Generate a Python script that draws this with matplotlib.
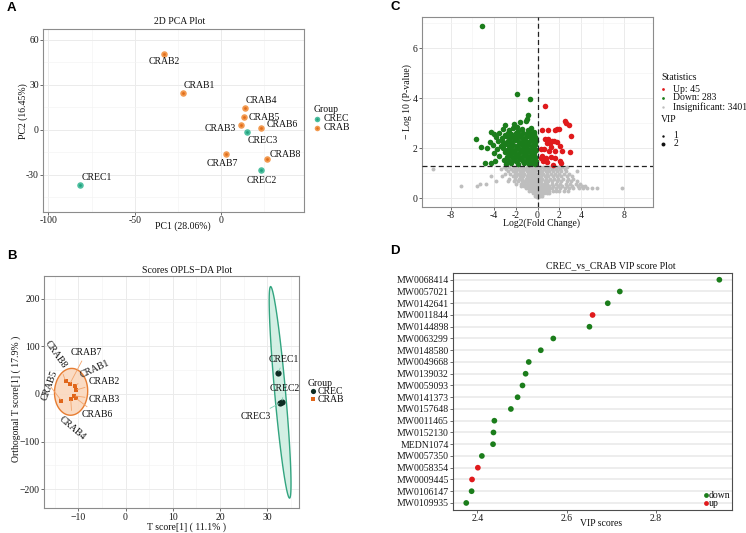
import numpy as np
import matplotlib
matplotlib.use('Agg')
import matplotlib.pyplot as plt

plt.rcParams['font.family'] = ['Liberation Serif', 'DejaVu Serif']

W, H = 746, 533

# ---------- A: 2D PCA
pca_names = ['CREC1', 'CREC2', 'CREC3', 'CRAB1', 'CRAB2', 'CRAB3', 'CRAB4', 'CRAB5', 'CRAB6', 'CRAB7', 'CRAB8']
pca_group = ['CREC'] * 3 + ['CRAB'] * 8
pca_pc1 = [-81.9, 23.3, 15.0, -22.1, -32.8, 11.7, 14.0, 13.1, 23.3, 3.1, 26.4]
pca_pc2 = [-37.3, -27.1, -1.8, 24.5, 50.2, 2.9, 14.2, 8.2, 0.9, -16.0, -19.8]

# ---------- B: OPLS-DA scores
opls_names = pca_names
opls_group = pca_group
opls_t = [32.35, 33.1, 32.75, -10.6, -10.5, -10.9, -11.6, -13.6, -10.5, -11.8, -12.7]
opls_o = [44.8, -16.1, -18.9, 17.0, 8.0, -4.0, -11.0, -14.0, -9.0, 21.0, 27.0]

# ---------- C: volcano (approximate readings of the point cloud)
up_pts = [(0.68, 3.67), (2.52, 3.07), (2.61, 3.0), (2.89, 2.91), (3.07, 2.47), (2.95, 1.83),
          (0.37, 2.73), (0.98, 2.73), (1.57, 2.71), (1.81, 2.76), (1.97, 2.76), (0.68, 2.36),
          (0.95, 2.36), (1.38, 2.27), (1.5, 2.29), (1.14, 2.2), (0.83, 2.2), (0.28, 1.96),
          (0.58, 1.96), (1.04, 1.87), (1.57, 1.87), (2.21, 1.89), (2.06, 2.1), (1.75, 2.23),
          (0.43, 1.69), (0.74, 1.6), (1.2, 1.64), (1.6, 1.59), (0.52, 1.47), (0.89, 1.43),
          (2.03, 1.47), (2.18, 1.4), (1.44, 1.33), (0.34, 1.6), (1.25, 2.05)]
down_pts = [(-5.1, 6.89), (-1.87, 4.15), (-0.68, 3.97), (-0.86, 3.33), (-5.69, 2.37), (-4.24, 2.64),
            (-5.16, 2.04), (-4.64, 2.0), (-4.79, 1.4), (-2.95, 2.91), (-2.12, 2.97), (-1.6, 3.05),
            (-1.1, 3.07), (-0.95, 3.15), (-1.9, 2.85), (-0.28, 2.64), (-0.45, 2.5),
            (-3.2, 2.78), (-2.6, 2.72), (-2.3, 2.8), (-1.8, 2.7), (-1.4, 2.77), (-0.9, 2.73), (-0.6, 2.8),
            (-4.0, 2.55), (-3.5, 2.6), (-3.0, 2.53), (-2.7, 2.62), (-2.4, 2.56), (-2.0, 2.6), (-1.7, 2.54),
            (-1.3, 2.61), (-1.0, 2.56), (-0.7, 2.6), (-0.3, 2.55),
            (-3.8, 2.45), (-3.3, 2.4), (-2.9, 2.47), (-2.55, 2.41), (-2.2, 2.46), (-1.85, 2.4), (-1.5, 2.45),
            (-1.15, 2.42), (-0.85, 2.47), (-0.55, 2.4), (-0.2, 2.44),
            (-4.4, 2.25), (-3.6, 2.3), (-3.15, 2.24), (-2.75, 2.29), (-2.4, 2.25), (-2.05, 2.31), (-1.7, 2.26),
            (-1.35, 2.3), (-1.0, 2.24), (-0.7, 2.29), (-0.35, 2.26), (-0.1, 2.3),
            (-4.1, 2.14), (-3.4, 2.1), (-2.95, 2.15), (-2.6, 2.09), (-2.25, 2.13), (-1.9, 2.1), (-1.55, 2.15),
            (-1.2, 2.11), (-0.9, 2.14), (-0.55, 2.09), (-0.25, 2.13),
            (-3.7, 1.95), (-3.2, 1.99), (-2.8, 1.94), (-2.45, 1.98), (-2.1, 1.93), (-1.75, 1.99), (-1.4, 1.95),
            (-1.05, 1.98), (-0.75, 1.93), (-0.4, 1.97), (-0.15, 1.94),
            (-4.0, 1.8), (-3.0, 1.84), (-2.6, 1.79), (-2.3, 1.83), (-1.95, 1.78), (-1.6, 1.83), (-1.25, 1.8),
            (-0.95, 1.84), (-0.6, 1.79), (-0.3, 1.82),
            (-3.5, 1.68), (-2.8, 1.64), (-2.4, 1.69), (-2.1, 1.63), (-1.8, 1.67), (-1.45, 1.64), (-1.1, 1.68),
            (-0.8, 1.63), (-0.5, 1.67), (-0.2, 1.64),
            (-3.9, 1.5), (-3.1, 1.54), (-2.6, 1.49), (-2.25, 1.53), (-1.95, 1.5), (-1.6, 1.55), (-1.3, 1.49),
            (-1.0, 1.53), (-0.65, 1.5), (-0.35, 1.54), (-0.1, 1.49),
            (-4.3, 1.4), (-2.9, 1.37), (-2.4, 1.41), (-1.8, 1.36), (-1.2, 1.4), (-0.8, 1.37), (-0.45, 1.41), (-0.2, 1.37)]
ns_rows = [
    (1.25, [-3.1, -2.6, -2.2, -1.9, -1.6, -1.3, -1.0, -0.7, -0.4, -0.15, 0.2, 0.5, 0.8, 1.1, 1.5, 1.9, 2.3, 2.7]),
    (1.17, [-9.65, -3.4, -2.9, -2.4, -2.05, -1.75, -1.45, -1.15, -0.85, -0.55, -0.3, -0.05, 0.25, 0.6, 0.95, 1.3, 1.7, 2.1, 2.5]),
    (1.07, [-2.7, -2.3, -1.95, -1.6, -1.3, -1.0, -0.7, -0.45, -0.2, 0.1, 0.4, 0.75, 1.1, 1.45, 1.8, 2.2, 2.6, 3.65]),
    (0.97, [-3.0, -2.5, -2.1, -1.8, -1.5, -1.2, -0.9, -0.6, -0.35, -0.1, 0.2, 0.55, 0.9, 1.25, 1.6, 2.0, 2.4, 2.9]),
    (0.87, [-4.3, -3.3, -2.3, -1.95, -1.6, -1.3, -1.0, -0.75, -0.5, -0.25, 0.05, 0.3, 0.65, 1.0, 1.4, 1.8, 2.2, 2.7, 3.2]),
    (0.77, [-2.6, -2.05, -1.7, -1.4, -1.1, -0.85, -0.6, -0.35, -0.1, 0.15, 0.45, 0.8, 1.15, 1.5, 1.9, 2.35, 2.8, 3.3]),
    (0.67, [-3.8, -2.7, -2.2, -1.75, -1.45, -1.15, -0.9, -0.65, -0.4, -0.15, 0.1, 0.35, 0.65, 1.0, 1.35, 1.75, 2.2, 2.7, 3.1, 3.6]),
    (0.57, [-5.3, -4.7, -2.0, -1.5, -1.2, -0.95, -0.7, -0.45, -0.2, 0.05, 0.3, 0.6, 0.9, 1.3, 1.7, 2.1, 2.6, 3.0, 3.5, 3.9]),
    (0.48, [-7.0, -5.6, -1.55, -1.25, -1.0, -0.75, -0.5, -0.3, -0.05, 0.2, 0.5, 0.8, 1.1, 1.45, 1.85, 2.25, 2.7, 3.2, 3.7, 4.1, 4.4]),
    (0.39, [-1.1, -0.85, -0.6, -0.4, -0.2, 0.0, 0.25, 0.5, 0.75, 1.05, 1.35, 1.7, 2.1, 2.5, 2.9, 3.3, 3.8, 4.2, 4.6, 5.0, 5.5, 7.8]),
    (0.30, [-0.75, -0.5, -0.3, -0.1, 0.1, 0.35, 0.6, 0.85, 1.1, 1.4, 1.7, 2.0, 2.4, 2.8]),
    (0.20, [-0.45, -0.25, -0.05, 0.15, 0.35, 0.6, 0.85, 1.1]),
    (0.10, [-0.25, -0.1, 0.05, 0.2, 0.4]),
    (0.03, [-0.05, 0.05]),
]
stat_labels = ['Up: 45', 'Down: 283', 'Insignificant: 3401']

# ---------- D: VIP scores (top to bottom)
vip_names = ['MW0068414', 'MW0057021', 'MW0142641', 'MW0011844', 'MW0144898', 'MW0063299', 'MW0148580',
             'MW0049668', 'MW0139032', 'MW0059093', 'MW0141373', 'MW0157648', 'MW0011465', 'MW0152130',
             'MEDN1074', 'MW0057350', 'MW0058354', 'MW0009445', 'MW0106147', 'MW0109935']
vip_scores = [2.942, 2.719, 2.692, 2.658, 2.651, 2.570, 2.542, 2.515, 2.508, 2.501, 2.490, 2.475,
              2.438, 2.436, 2.435, 2.410, 2.401, 2.388, 2.387, 2.375]
vip_type = ['down', 'down', 'down', 'up', 'down', 'down', 'down', 'down', 'down', 'down', 'down', 'down',
            'down', 'down', 'down', 'down', 'up', 'up', 'down', 'down']

# ---------- colours
pca_col = {'CREC': '#4dbf9f', 'CRAB': '#f29a50'}
pca_core = {'CREC': '#22a07f', 'CRAB': '#e06d1c'}
green, red, grey = '#1b7d1b', '#e01a1c', '#bebebe'


def box(l, t, r, b):
    return [l / W, 1 - b / H, (r - l) / W, (b - t) / H]


def style(ax, edge='#8c8c8c', grid=True):
    for s in ax.spines.values():
        s.set_color(edge)
        s.set_linewidth(0.8)
    ax.tick_params(which='major', length=2, width=0.6, color='#555555', labelsize=7, pad=1.2,
                   labelcolor='#1a1a1a')
    ax.tick_params(which='minor', length=0)
    ax.set_axisbelow(True)
    if grid:
        ax.grid(True, which='major', color='#ebebeb', lw=0.7)
        ax.grid(True, which='minor', color='#f3f3f3', lw=0.45)


def norm_ellipse(x, y, fq):
    pts = np.column_stack([x, y])
    c = pts.mean(axis=0)
    L = np.linalg.cholesky(np.cov(pts.T))
    t = np.linspace(0, 2 * np.pi, 121)
    circ = np.column_stack([np.cos(t), np.sin(t)])
    e = c + np.sqrt(2 * fq) * circ @ L.T
    return e[:, 0], e[:, 1]


fig = plt.figure(figsize=(W / 100, H / 100), dpi=100)

# ================= A
axA = fig.add_axes(box(43.3, 29.3, 304, 212))
style(axA)
axA.set_xlim(-103, 48)
axA.set_ylim(-55, 67)
axA.set_xticks([-100, -50, 0])
axA.set_xticklabels(['-100', '-50', '0'])
axA.set_xticks([-75, -25, 25], minor=True)
axA.set_yticks([-30, 0, 30, 60])
axA.set_yticklabels(['-30', '0', '30', '60'])
axA.set_yticks([-45, -15, 15, 45], minor=True)
for g in ['CREC', 'CRAB']:
    xs = [x for x, gg in zip(pca_pc1, pca_group) if gg == g]
    ys = [y for y, gg in zip(pca_pc2, pca_group) if gg == g]
    axA.scatter(xs, ys, s=22, color=pca_col[g], lw=0, zorder=3)
    axA.scatter(xs, ys, s=4, color=pca_core[g], lw=0, zorder=4)
pca_lab_off = [(16.7, 7.7), (0, -10.3), (15.7, -8.6), (16.6, 7.6), (0, -7), (-20.6, -3.6),
               (15.7, 8), (20.3, 0), (20.4, 3.7), (-4.6, -10), (18.3, 5)]
for n, x, y, (dx, dy) in zip(pca_names, pca_pc1, pca_pc2, pca_lab_off):
    axA.annotate(n, (x, y), xytext=(dx * 0.72, dy * 0.72), textcoords='offset points',
                 ha='center', va='center', fontsize=7, color='#111111')

# ================= B
axB = fig.add_axes(box(44.3, 275.7, 299.3, 508.3))
style(axB)
axB.set_xlim(-17.2, 36.8)
axB.set_ylim(-240, 248)
axB.set_xticks([-10, 0, 10, 20, 30])
axB.set_xticklabels(['\u221210', '0', '10', '20', '30'])
axB.set_xticks([-15, -5, 5, 15, 25, 35], minor=True)
axB.set_yticks([-200, -100, 0, 100, 200])
axB.set_yticklabels(['\u2212200', '\u2212100', '0', '100', '200'])
axB.set_yticks([-150, -50, 50, 150], minor=True)

fq = {'CREC': 19.0, 'CRAB': 4.737}   # qf(0.95, 2, n-1)
ell_face = {'CREC': '#cfeee2', 'CRAB': '#fad7bd'}
ell_edge = {'CREC': '#1f9c74', 'CRAB': '#e5711f'}
pt_col = {'CREC': '#0d2b22', 'CRAB': '#e0661a'}
for g in ['CREC', 'CRAB']:
    xs = [x for x, gg in zip(opls_t, opls_group) if gg == g]
    ys = [y for y, gg in zip(opls_o, opls_group) if gg == g]
    ex, ey = norm_ellipse(xs, ys, fq[g])
    axB.fill(ex, ey, facecolor=ell_face[g], edgecolor=ell_edge[g], lw=1.0, alpha=0.9, zorder=2)
    if g == 'CREC':
        axB.scatter(xs, ys, s=20, marker='o', color=pt_col[g], lw=0, zorder=4)
    else:
        axB.scatter(xs, ys, s=6, marker='s', color=pt_col[g], lw=0, zorder=4)

opls_lab = [(33.5, 72.5, 0), (33.7, 10.5, 0), (27.5, -47, 0), (-6.6, 52, 25), (-4.4, 26, 0),
            (-4.4, -12.6, 0), (-11.2, -72, -40), (-16.0, 17, 70), (-5.9, -44, 0), (-8.3, 87, 0),
            (-14.7, 82, -55)]
for n, g, x, y, (lx, ly, rot) in zip(opls_names, opls_group, opls_t, opls_o, opls_lab):
    seg = '#f2a46c' if g == 'CRAB' else '#7fcfb2'
    axB.annotate(n, (x, y), xytext=(lx, ly), textcoords='data', ha='center', va='center',
                 rotation=rot, rotation_mode='anchor', fontsize=7, color='#111111', zorder=5,
                 arrowprops=dict(arrowstyle='-', color=seg, lw=0.6, shrinkA=1, shrinkB=1))

# ================= C
axC = fig.add_axes(box(422.3, 16.7, 652.7, 206.7))
style(axC)
axC.set_xlim(-10.6, 10.6)
axC.set_ylim(-0.34, 7.26)
axC.set_xticks([-8, -4, -2, 0, 2, 4, 8])
axC.set_xticklabels(['-8', '-4', '-2', '0', '2', '4', '8'])
axC.set_xticks([-6, 6], minor=True)
axC.set_yticks([0, 2, 4, 6])
axC.set_yticks([1, 3, 5, 7], minor=True)
ns_x = [x for y, xs in ns_rows for x in xs]
ns_y = [y for y, xs in ns_rows for x in xs]
axC.scatter(ns_x, ns_y, s=8, color=grey, lw=0, zorder=2)
axC.scatter([p[0] for p in down_pts], [p[1] for p in down_pts], s=16, color=green, lw=0, zorder=3)
axC.scatter([p[0] for p in up_pts], [p[1] for p in up_pts], s=16, color=red, lw=0, zorder=3)
axC.axhline(-np.log10(0.05), color='#222222', lw=0.9, ls=(0, (4, 2.5)), zorder=4)
axC.axvline(0, color='#222222', lw=0.9, ls=(0, (4, 2.5)), zorder=4)

# ================= D
axD = fig.add_axes(box(453.3, 272.7, 732.3, 510))
style(axD, edge='#4d4d4d', grid=False)
nv = len(vip_names)
ypos = np.arange(nv, 0, -1)
axD.set_ylim(0.4, nv + 0.6)
axD.set_xlim(2.346, 2.971)
for yy in ypos:
    axD.axhline(yy, color='#e8e8e8', lw=1.1, zorder=1)
axD.set_yticks(ypos)
axD.set_yticklabels(vip_names)
axD.set_xticks([2.4, 2.6, 2.8])
axD.set_xticklabels(['2.4', '2.6', '2.8'])
vcol = {'down': green, 'up': red}
axD.scatter(vip_scores, ypos, s=17, c=[vcol[t] for t in vip_type], lw=0, zorder=3)

# ================= overlay: titles, axis labels, legends (pixel coords)
ov = fig.add_axes([0, 0, 1, 1], zorder=10)
ov.set_xlim(0, W)
ov.set_ylim(H, 0)
ov.axis('off')
txt = dict(fontsize=7, color='#111111')

for lab, x, y in [('A', 7, 8), ('B', 7, 256), ('C', 390.5, 7.5), ('D', 390.5, 251.5)]:
    ov.text(x, y, lab, family='Liberation Sans', fontweight='bold', fontsize=9.5, va='center', ha='left')

ov.text(180, 21.7, '2D PCA Plot', ha='center', va='center', **txt)
ov.text(183, 226, 'PC1 (28.06%)', ha='center', va='center', **txt)
ov.text(23.3, 110.7, 'PC2 (16.45%)', ha='center', va='center', rotation=90, **txt)

ov.text(186.7, 270.5, 'Scores OPLS\u2212DA Plot', ha='center', va='center', **txt)
ov.text(186.7, 527, 'T score[1] ( 11.1% )', ha='center', va='center', **txt)
ov.text(15.7, 399, 'Orthogonal T score[1] ( 17.9% )', ha='center', va='center', rotation=90, **txt)

ov.text(541.7, 223.5, 'Log2(Fold Change)', ha='center', va='center', **txt)
ov.text(407.3, 101.7, '\u2212 Log 10 (P-value)', ha='center', va='center', rotation=90, **txt)

ov.text(611, 265.7, 'CREC_vs_CRAB VIP score Plot', ha='center', va='center', **txt)
ov.text(601, 523.8, 'VIP scores', ha='center', va='center', **txt)

# legend A
ov.text(313.3, 110, 'Group', ha='left', va='center', **txt)
for g, yy in [('CREC', 118.7), ('CRAB', 128)]:
    ov.scatter([316.7], [yy], s=16, color=pca_col[g], lw=0)
    ov.scatter([316.7], [yy], s=3, color=pca_core[g], lw=0)
    ov.text(323.3, yy, g, ha='left', va='center', **txt)

# legend B
ov.text(307.3, 383.3, 'Group', ha='left', va='center', **txt)
ov.scatter([312.7], [391], s=14, color=pt_col['CREC'], lw=0)
ov.text(317.3, 391, 'CREC', ha='left', va='center', **txt)
ov.scatter([312.7], [399.3], s=6, marker='s', color=pt_col['CRAB'], lw=0)
ov.text(317.3, 399.3, 'CRAB', ha='left', va='center', **txt)

# legend C
ov.text(661, 77.3, 'Statistics', ha='left', va='center', **txt)
for lab, c, yy, s in zip(stat_labels, [red, green, grey], [89, 97.7, 106.7], [4, 4, 3]):
    ov.scatter([663], [yy], s=s, color=c, lw=0)
    ov.text(673.3, yy, lab, ha='left', va='center', **txt)
ov.text(661, 120, 'VIP', ha='left', va='center', **txt)
for lab, yy, s in [('1', 136, 3), ('2', 144, 8)]:
    ov.scatter([663], [yy], s=s, color='#111111', lw=0)
    ov.text(673.3, yy, lab, ha='left', va='center', **txt)

# legend D
for lab, c, yy in [('down', green, 495.3), ('up', red, 503.3)]:
    ov.scatter([705.7], [yy], s=12, color=c, lw=0)
    ov.text(708.5, yy, lab, ha='left', va='center', **txt)

fig.savefig('out.png', dpi=100)
